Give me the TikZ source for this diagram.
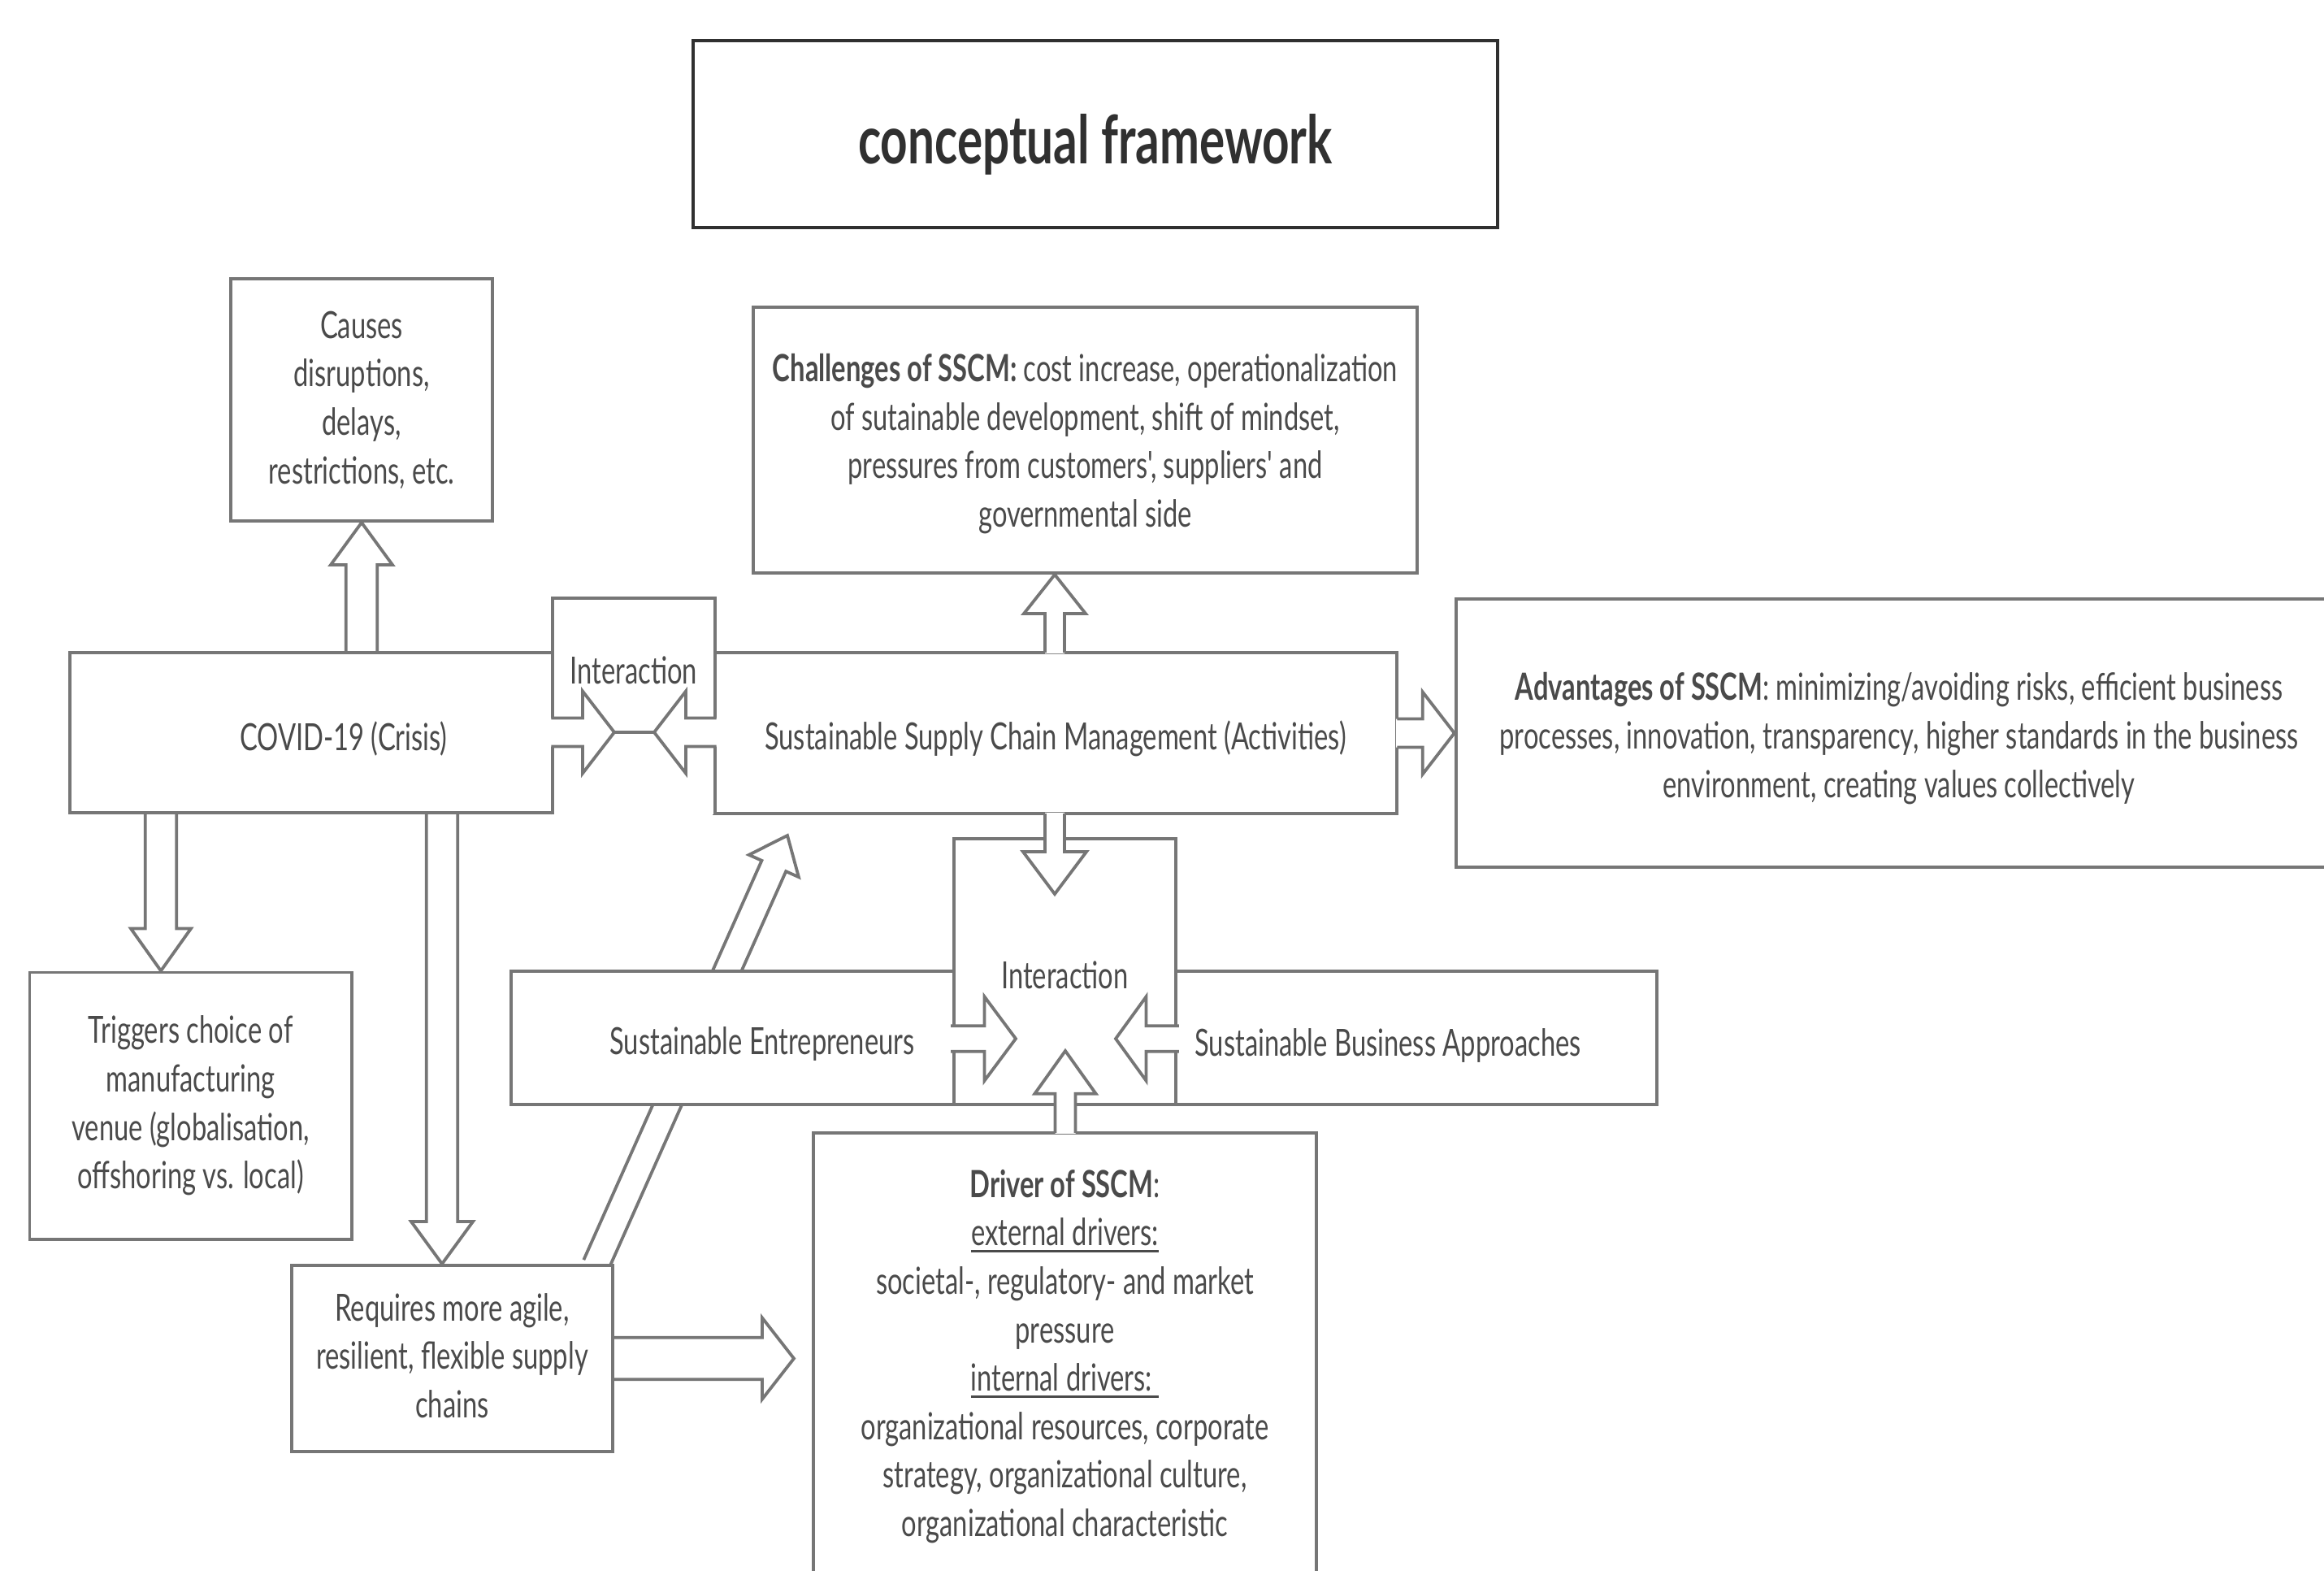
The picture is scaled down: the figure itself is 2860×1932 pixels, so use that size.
\documentclass[tikz,border=0pt]{standalone}
\usepackage{fontspec}
\setmainfont{Lato}[FakeStretch=0.71, Ligatures=TeXOff]
\usetikzlibrary{calc}
\definecolor{lnc}{HTML}{767676}
\definecolor{txc}{HTML}{4A4A4A}
\definecolor{ttl}{HTML}{303030}
\pgfdeclarelayer{bgzero}
\pgfdeclarelayer{bgone}
\pgfsetlayers{bgzero,bgone,main}
\newcommand{\bodyfont}{\fontsize{13.1pt}{16.95pt}\selectfont}
\newcommand{\myul}[1]{\leavevmode\setbox0=\hbox{#1}\rlap{\rule[-2.3pt]{\wd0}{0.8pt}}\box0}
% block arrow: #1 tail, #2 tip, #3 shaft half width, #4 head half width, #5 head length, #6 fill extension behind tail
\newcommand{\blockarr}[6]{%
  \coordinate (ba-B) at ($(#2)!#5!(#1)$);
  \coordinate (ba-A) at ($(#1)!-#6!(#2)$);
  \coordinate (ba-t1) at ($(#1)!#3!90:(#2)$);
  \coordinate (ba-t2) at ($(#1)!#3!-90:(#2)$);
  \coordinate (ba-f1) at ($(ba-A)!#3!90:(#2)$);
  \coordinate (ba-f2) at ($(ba-A)!#3!-90:(#2)$);
  \coordinate (ba-s1) at ($(ba-B)!#3!90:(#2)$);
  \coordinate (ba-s2) at ($(ba-B)!#3!-90:(#2)$);
  \coordinate (ba-h1) at ($(ba-B)!#4!90:(#2)$);
  \coordinate (ba-h2) at ($(ba-B)!#4!-90:(#2)$);
  \fill[white] (ba-f1)--(ba-s1)--(ba-h1)--(#2)--(ba-h2)--(ba-s2)--(ba-f2)--cycle;
  \draw[arrline] (ba-t1)--(ba-s1)--(ba-h1)--(#2)--(ba-h2)--(ba-s2)--(ba-t2);
}
\tikzset{
  box/.style={rectangle, draw=lnc, line width=0.038cm, fill=white, inner sep=0pt},
  titlebox/.style={rectangle, draw=ttl, line width=0.042cm, fill=white, inner sep=0pt},
  titletext/.style={inner sep=0pt, text=ttl, font=\fontsize{23.4pt}{28pt}\selectfont\bfseries},
  boxline/.style={draw=lnc, line width=0.038cm},
  arrline/.style={draw=lnc, line width=0.038cm, line join=miter, line cap=rect},
  txt/.style={inner sep=0pt, align=center, text=txc, font=\bodyfont}
}
\begin{document}
\begin{tikzpicture}[x=0.01cm,y=-0.01cm]
\useasboundingbox (0,0) rectangle (2860,1932);
\clip (0,0) rectangle (2860,1932);
\begin{pgfonlayer}{bgzero}
\fill[white] (0,0) rectangle (2860,1932);
\end{pgfonlayer}

% ---------- boxes ----------
\node[titlebox, minimum width=9.9cm, minimum height=2.3cm] (title) at (1348,165) {};
\node[titletext] (titletxt) at (1348,178) {conceptual framework};

\node[box, minimum width=3.22cm, minimum height=2.98cm] (causes) at (445,492) {};
\node[txt] (causestxt) at (445,492) {Causes\\disruptions,\\delays,\\restrictions, etc.};

\node[box, minimum width=8.17cm, minimum height=3.27cm] (chall) at (1335.5,541.5) {};
\node[txt] (challtxt) at (1335.5,546)
  {\textbf{Challenges of SSCM:} cost increase, operationalization\\
   of sutainable development, shift of mindset,\\
   pressures from customers', suppliers' and\\
   governmental side};

\node[box, minimum width=6.74cm, minimum height=1.97cm] (covid) at (423,901.5) {};
\node[txt] (covidtxt) at (423,908.5) {COVID-19 (Crisis)};

\node[box, minimum width=8.40cm, minimum height=1.98cm] (sscm) at (1299,902) {};
\node[txt] (sscmtxt) at (1299,909) {Sustainable Supply Chain Management (Activities)};

\node[fill=white, inner sep=0pt, minimum width=1.98cm, minimum height=2.645cm] (int1) at (780,869.25) {};
\draw[boxline] (int1.south west) -- (int1.north west) -- (int1.north east) -- (int1.south east);
\node[txt] (int1txt) at (780,825) {Interaction};

\node[box, minimum width=10.9cm, minimum height=3.30cm] (adv) at (2337,902) {};
\node[txt] (advtxt) at (2337,908.5)
  {\textbf{Advantages of SSCM}: minimizing/avoiding risks, efficient business\\
   processes, innovation, transparency, higher standards in the business\\
   environment, creating values collectively};

\node[box, minimum width=3.96cm, minimum height=3.28cm] (trig) at (234.6,1360.5) {};
\node[txt] (trigtxt) at (234.6,1360.5)
  {Triggers choice of\\manufacturing\\venue (globalisation,\\offshoring vs. local)};

\node[box, minimum width=6.18cm, minimum height=1.64cm] (se) at (938,1277) {};
\node[txt] (setxt) at (938,1284) {Sustainable Entrepreneurs};
\node[box, minimum width=6.62cm, minimum height=1.64cm] (sba) at (1708,1277) {};
\node[txt] (sbatxt) at (1708,1286) {Sustainable Business Approaches};
\node[box, minimum width=2.73cm, minimum height=3.27cm] (int2) at (1310.5,1195.5) {};
\node[txt] (int2txt) at (1310.5,1200) {Interaction};

\node[box, minimum width=3.95cm, minimum height=2.29cm] (req) at (556.5,1671.5) {};
\node[txt] (reqtxt) at (556.5,1668)
  {Requires more agile,\\resilient, flexible supply\\chains};

\node[box, minimum width=6.19cm, minimum height=5.46cm] (drv) at (1310.5,1667) {};
\node[txt] (drvtxt) at (1310.5,1669)
  {\textbf{Driver of SSCM}:\\
   \myul{external drivers:}\\
   societal-, regulatory- and market\\
   pressure\\
   \myul{internal drivers:\ }\\
   organizational resources, corporate\\
   strategy, organizational culture,\\
   organizational characteristic};

% ---------- arrows behind boxes (closed tails) ----------
\begin{pgfonlayer}{bgone}
\coordinate (a1t) at (causes.south |- covid.north);
\coordinate (a1h) at (causes.south);
\blockarr{a1t}{a1h}{0.193cm}{0.38cm}{0.52cm}{0cm}
\coordinate (a2t) at (198,0 |- covid.south);
\coordinate (a2h) at (198,0 |- trig.north);
\blockarr{a2t}{a2h}{0.193cm}{0.37cm}{0.52cm}{0cm}
\coordinate (a3t) at (544,0 |- covid.south);
\coordinate (a3h) at (544,0 |- req.north);
\blockarr{a3t}{a3h}{0.193cm}{0.38cm}{0.52cm}{0cm}
\coordinate (a4t) at (734,0 |- req.north);
\coordinate (a4h) at (969,1028);
\blockarr{a4t}{a4h}{0.163cm}{0.335cm}{0.41cm}{0cm}
\coordinate (a5t) at (req.east);
\coordinate (a5h) at (977,0 |- req.east);
\blockarr{a5t}{a5h}{0.257cm}{0.50cm}{0.39cm}{0cm}
\end{pgfonlayer}

% ---------- arrows over boxes (open tails) ----------
\coordinate (b1t) at (1298,0 |- sscm.north);
\coordinate (b1h) at (1298,0 |- chall.south);
\blockarr{b1t}{b1h}{0.12cm}{0.38cm}{0.48cm}{0.03cm}
\coordinate (b2t) at (sscm.east);
\coordinate (b2h) at (adv.west);
\blockarr{b2t}{b2h}{0.175cm}{0.505cm}{0.39cm}{0.03cm}
\coordinate (b3t) at (int1.west |- 0,901);
\coordinate (b3h) at (756,901);
\blockarr{b3t}{b3h}{0.175cm}{0.505cm}{0.39cm}{0.03cm}
\coordinate (b4t) at (int1.east |- 0,901);
\coordinate (b4h) at (805,901);
\blockarr{b4t}{b4h}{0.175cm}{0.505cm}{0.39cm}{0.03cm}
\draw[arrline] (b3h) -- (b4h);
\coordinate (b5t) at (1298,0 |- sscm.south);
\coordinate (b5h) at (1298,1100);
\blockarr{b5t}{b5h}{0.12cm}{0.39cm}{0.52cm}{0.03cm}
\coordinate (b6t) at (int2.west |- 0,1278);
\coordinate (b6h) at (1250,1278);
\blockarr{b6t}{b6h}{0.158cm}{0.517cm}{0.385cm}{0.03cm}
\coordinate (b7t) at (int2.east |- 0,1278);
\coordinate (b7h) at (1373,1278);
\blockarr{b7t}{b7h}{0.158cm}{0.517cm}{0.375cm}{0.03cm}
\coordinate (b8t) at (1311,0 |- drv.north);
\coordinate (b8h) at (1311,1293);
\blockarr{b8t}{b8h}{0.125cm}{0.376cm}{0.527cm}{0.03cm}
\end{tikzpicture}
\end{document}
